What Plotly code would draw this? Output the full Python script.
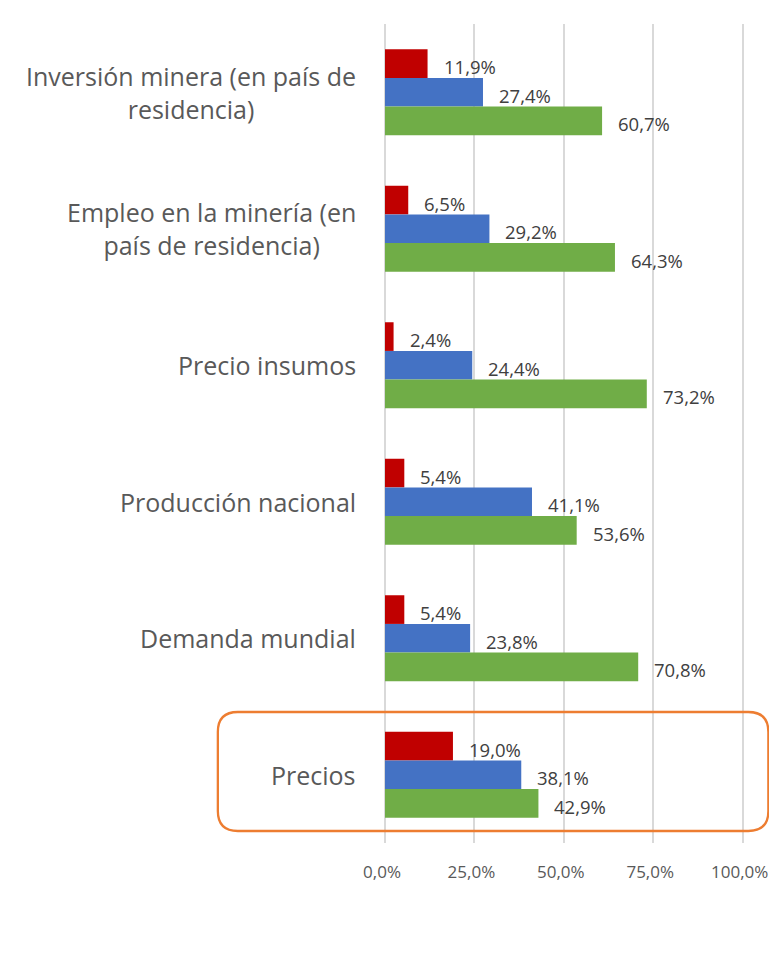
import plotly.graph_objects as go

# Factores evaluados (de arriba hacia abajo)
categorias = [
    "Inversión minera (en país de<br>residencia)",
    "Empleo en la minería (en<br>país de residencia)",
    "Precio insumos",
    "Producción nacional",
    "Demanda mundial",
    "Precios",
]

# Porcentaje de respuestas por serie
serie_roja = [11.9, 6.5, 2.4, 5.4, 5.4, 19.0]
serie_azul = [27.4, 29.2, 24.4, 41.1, 23.8, 38.1]
serie_verde = [60.7, 64.3, 73.2, 53.6, 70.8, 42.9]

tick_vals = [0, 25, 50, 75, 100]
tick_labels = ["0,0%", "25,0%", "50,0%", "75,0%", "100,0%"]

colores = ["#C00000", "#4472C4", "#70AD47"]
series = [serie_roja, serie_azul, serie_verde]

FONT = "Open Sans"
W_FIG, H_FIG = 769, 956
X_MAX = 101.5
PX_PER_UNIT = 3.573
ML, MT, MB = 385, 24, 113
PW = X_MAX * PX_PER_UNIT
MR = W_FIG - ML - PW
PH = H_FIG - MT - MB
BARGAP = 0.37

fig = go.Figure()
for vals, col in zip(series, colores):
    fig.add_trace(go.Bar(
        y=categorias, x=vals, orientation="h",
        marker=dict(color=col, line=dict(width=0)),
        showlegend=False, hoverinfo="x+y",
    ))


def fmt(v):
    return f"{v:.1f}".replace(".", ",") + "%"


# Etiquetas de valor a la derecha de cada barra
band_px = PH / len(categorias)
bar_px = band_px * (1 - BARGAP) / 3
annotations = []
for i, vals in enumerate(series):
    shift = (1 - i) * bar_px - 3
    for cat, v in zip(categorias, vals):
        annotations.append(dict(
            x=v, y=cat, xref="x", yref="y", text=fmt(v),
            showarrow=False, xanchor="left", yanchor="middle",
            xshift=14, yshift=shift,
            font=dict(family=FONT, size=18.5, color="#404040"),
        ))

# Nombres de categoría, centrados por línea y alineados a la derecha
x_lab = (358 - ML) / PW
for cat in categorias:
    annotations.append(dict(
        x=x_lab, y=cat, xref="paper", yref="y", text=cat,
        showarrow=False, xanchor="right", yanchor="middle", align="center",
        font=dict(family=FONT, size=25, color="#595959"),
    ))


def px_to_paper(px, py):
    return (px - ML) / PW, 1 - (py - MT) / PH


# Recuadro redondeado que destaca "Precios"
left, right, top, bottom, r = 218, 768, 712, 831, 20
pts = {
    "a": px_to_paper(left + r, top),
    "b": px_to_paper(right - r, top),
    "c": px_to_paper(right, top),
    "d": px_to_paper(right, top + r),
    "e": px_to_paper(right, bottom - r),
    "f": px_to_paper(right, bottom),
    "g": px_to_paper(right - r, bottom),
    "h": px_to_paper(left + r, bottom),
    "i": px_to_paper(left, bottom),
    "j": px_to_paper(left, bottom - r),
    "k": px_to_paper(left, top + r),
    "l": px_to_paper(left, top),
}


def p(k):
    return f"{pts[k][0]:.5f},{pts[k][1]:.5f}"


path = (f"M {p('a')} L {p('b')} Q {p('c')} {p('d')} L {p('e')} "
        f"Q {p('f')} {p('g')} L {p('h')} Q {p('i')} {p('j')} "
        f"L {p('k')} Q {p('l')} {p('a')} Z")

fig.update_layout(
    width=W_FIG, height=H_FIG,
    margin=dict(l=ML, r=MR, t=MT, b=MB, pad=0, autoexpand=False),
    paper_bgcolor="white", plot_bgcolor="white",
    barmode="group", bargap=BARGAP, bargroupgap=0,
    annotations=annotations,
    shapes=[dict(type="path", path=path, xref="paper", yref="paper",
                 line=dict(color="#ED7D31", width=2.3),
                 fillcolor="rgba(0,0,0,0)", layer="above")],
    xaxis=dict(
        range=[0, X_MAX], tickvals=tick_vals, ticktext=tick_labels,
        showgrid=True, gridcolor="#D9D9D9", gridwidth=2,
        zeroline=True, zerolinecolor="#D9D9D9", zerolinewidth=2,
        showline=False, ticks="", ticklabelstandoff=17,
        ticklabelshift=-3, ticklabeloverflow="allow",
        tickfont=dict(family=FONT, size=17, color="#595959"),
        fixedrange=True,
    ),
    yaxis=dict(
        autorange="reversed", showticklabels=False, showgrid=False,
        zeroline=False, showline=False, ticks="", fixedrange=True,
    ),
)

fig.write_html("out.html")
